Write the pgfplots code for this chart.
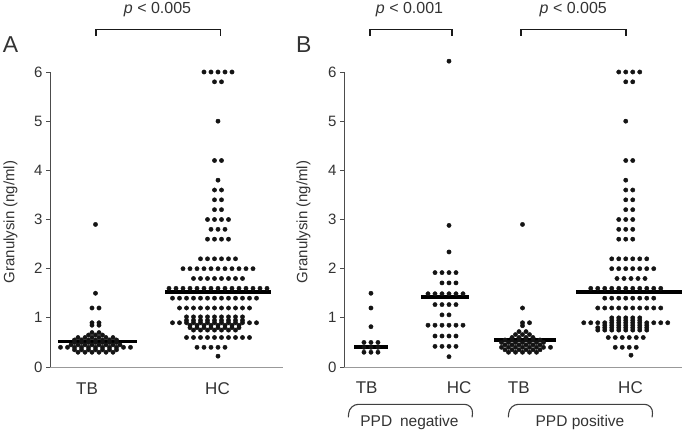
\documentclass[border=0pt]{standalone}
\usepackage{pgfplots}
\pgfplotsset{compat=1.18}
\usepackage{fontspec}
\setmainfont{Liberation Sans}
\definecolor{txt}{HTML}{333333}
\definecolor{dot}{HTML}{141414}
\begin{document}
\begin{tikzpicture}[x=1pt,y=1pt]
\pgfplotsset{
  dotaxis/.style={
    scale only axis,
    height=295pt, ymin=0, ymax=6, ytick={0,1,2,3,4,5,6},
    xtick=\empty,
    axis x line*=bottom, axis y line*=left,
    x axis line style={draw=black!40, line width=1pt},
    y axis line style={draw=black!70, line width=0.9pt},
    y tick style={draw=black!70, line width=0.9pt},
    tick align=outside, major tick length=4pt,
    clip=false,
    /pgf/number format/assume math mode=true,
    yticklabel style={font=\fontsize{15}{18}\selectfont, text=txt},
  },
  dots/.style={only marks, mark=*, mark size=2.15pt, mark options={draw=dot, fill=dot}, color=dot},
  med/.style={no marks, line width=3.8pt, color=black},
}
% ---------------- Panel A ----------------
\begin{axis}[dotaxis, at={(50pt,67pt)}, anchor=origin, width=233pt, xmin=0, xmax=33.2857]
% TB
\addplot[dots] coordinates {
(6.5,2.9)(6.5,1.5)(6,1.2)(7,1.2)(6,0.9)(7,0.9)(6,0.85)(7,0.85)(6,0.7)(7,0.7)
(5.5,0.65)(6.5,0.65)(7.5,0.65)
(4,0.6)(5,0.6)(6,0.6)(7,0.6)(8,0.6)(9,0.6)
(3.5,0.55)(4.5,0.55)(5.5,0.55)(6.5,0.55)(7.5,0.55)(8.5,0.55)(9.5,0.55)
(3.5,0.5)(4.5,0.5)(5.5,0.5)(6.5,0.5)(7.5,0.5)(8.5,0.5)(9.5,0.5)
(3,0.45)(4,0.45)(5,0.45)(6,0.45)(7,0.45)(8,0.45)(9,0.45)(10,0.45)
(1.5,0.4)(2.5,0.4)(3.5,0.4)(4.5,0.4)(5.5,0.4)(6.5,0.4)(7.5,0.4)(8.5,0.4)(9.5,0.4)(10.5,0.4)(11.5,0.4)
(3.5,0.35)(4.5,0.35)(5.5,0.35)(6.5,0.35)(7.5,0.35)(8.5,0.35)(9.5,0.35)
(4,0.3)(5,0.3)(6,0.3)(7,0.3)(8,0.3)(9,0.3)
};
% HC
\addplot[dots] coordinates {
(22,6)(23,6)(24,6)(25,6)(26,6)
(23.5,5.8)(24.5,5.8)
(24,5)
(23.5,4.2)(24.5,4.2)
(24,3.8)
(23.5,3.6)(24.5,3.6)
(23.5,3.4)(24.5,3.4)
(23.5,3.2)(24.5,3.2)
(22.5,3)(23.5,3)(24.5,3)(25.5,3)
(23,2.8)(24,2.8)(25,2.8)
(22.5,2.6)(23.5,2.6)(24.5,2.6)(25.5,2.6)
(21.5,2.2)(22.5,2.2)(23.5,2.2)(24.5,2.2)(25.5,2.2)(26.5,2.2)
(19,2)(20,2)(21,2)(22,2)(23,2)(24,2)(25,2)(26,2)(27,2)(28,2)(29,2)
(20.5,1.8)(21.5,1.8)(22.5,1.8)(23.5,1.8)(24.5,1.8)(25.5,1.8)(26.5,1.8)(27.5,1.8)
(17,1.6)(18,1.6)(19,1.6)(20,1.6)(21,1.6)(22,1.6)(23,1.6)(24,1.6)(25,1.6)(26,1.6)(27,1.6)(28,1.6)(29,1.6)(30,1.6)(31,1.6)
(17.5,1.4)(18.5,1.4)(19.5,1.4)(20.5,1.4)(21.5,1.4)(22.5,1.4)(23.5,1.4)(24.5,1.4)(25.5,1.4)(26.5,1.4)(27.5,1.4)(28.5,1.4)(29.5,1.4)
(18.5,1.2)(19.5,1.2)(20.5,1.2)(21.5,1.2)(22.5,1.2)(23.5,1.2)(24.5,1.2)(25.5,1.2)(26.5,1.2)(27.5,1.2)(28.5,1.2)
(19.5,1.02)(20.5,1.02)(21.5,1.02)(22.5,1.02)(23.5,1.02)(24.5,1.02)(25.5,1.02)(26.5,1.02)(27.5,1.02)
(19.5,0.95)(20.5,0.95)(21.5,0.95)(22.5,0.95)(23.5,0.95)(24.5,0.95)(25.5,0.95)(26.5,0.95)(27.5,0.95)
(17.5,0.9)(18.5,0.9)(19.5,0.9)(20.5,0.9)(21.5,0.9)(22.5,0.9)(23.5,0.9)(24.5,0.9)(25.5,0.9)(26.5,0.9)(27.5,0.9)(28.5,0.9)(29.5,0.9)
(20,0.85)(21,0.85)(22,0.85)(23,0.85)(24,0.85)(25,0.85)(26,0.85)(27,0.85)
(20,0.8)(21,0.8)(22,0.8)(23,0.8)(24,0.8)(25,0.8)(26,0.8)(27,0.8)
(20.5,0.75)(21.5,0.75)(22.5,0.75)(23.5,0.75)(24.5,0.75)(25.5,0.75)(26.5,0.75)
(19.5,0.6)(20.5,0.6)(21.5,0.6)(22.5,0.6)(23.5,0.6)(24.5,0.6)(25.5,0.6)(26.5,0.6)(27.5,0.6)(28.5,0.6)
(21,0.4)(22,0.4)(23,0.4)(24,0.4)(25,0.4)
(24,0.22)
};
\addplot[med] coordinates {(1.14,0.52)(12.43,0.52)};
\addplot[med] coordinates {(16.43,1.52)(31.57,1.52)};
\end{axis}
% ---------------- Panel B ----------------
\begin{axis}[dotaxis, at={(344pt,67pt)}, anchor=origin, width=338pt, xmin=0, xmax=48.2857]
% TB PPD negative
\addplot[dots] coordinates {
(3.85,1.5)(3.85,1.2)(3.85,0.82)
(2.85,0.5)(3.85,0.5)(4.85,0.5)
(2.85,0.4)(3.85,0.4)(4.85,0.4)
(2.85,0.3)(3.85,0.3)(4.85,0.3)
};
% HC PPD negative
\addplot[dots] coordinates {
(15,6.22)(15,2.88)(15,2.34)
(13,1.92)(14,1.92)(15,1.92)(16,1.92)
(14,1.71)(15,1.71)(16,1.71)
(12,1.49)(13,1.49)(14,1.49)(15,1.49)(16,1.49)(17,1.49)
(13,1.27)(14,1.27)(15,1.27)(16,1.27)
(14,1.06)(15,1.06)
(12,0.85)(13,0.85)(14,0.85)(15,0.85)(16,0.85)(17,0.85)
(13,0.63)(14,0.63)(15,0.63)(16,0.63)
(13,0.42)(14,0.42)(15,0.42)(16,0.42)
(15,0.21)
};
% TB PPD positive
\addplot[dots] coordinates {
(25.5,2.9)(25.5,1.2)
(25.5,0.9)(26.5,0.9)(25.5,0.84)
(25,0.72)(26,0.72)
(24.5,0.66)(25.5,0.66)(26.5,0.66)
(24,0.6)(25,0.6)(26,0.6)(27,0.6)
(23,0.55)(24,0.55)(25,0.55)(26,0.55)(27,0.55)(28,0.55)
(22.5,0.5)(23.5,0.5)(24.5,0.5)(25.5,0.5)(26.5,0.5)(27.5,0.5)(28.5,0.5)
(23,0.45)(24,0.45)(25,0.45)(26,0.45)(27,0.45)(28,0.45)
(22.5,0.4)(23.5,0.4)(24.5,0.4)(25.5,0.4)(26.5,0.4)(27.5,0.4)(28.5,0.4)(29.5,0.4)
(23,0.35)(24,0.35)(25,0.35)(26,0.35)(27,0.35)(28,0.35)
(23.5,0.3)(24.5,0.3)(25.5,0.3)(26.5,0.3)(27.5,0.3)
};
% HC PPD positive
\addplot[dots] coordinates {
(39.25,6)(40.25,6)(41.25,6)(42.25,6)
(40.25,5.8)(41.25,5.8)
(40.25,5)
(40.25,4.2)(41.25,4.2)
(40.25,3.8)
(40.25,3.6)(41.25,3.6)
(40.25,3.4)(41.25,3.4)
(40.25,3.2)(41.25,3.2)
(39.25,3)(40.25,3)(41.25,3)
(39.25,2.8)(40.25,2.8)(41.25,2.8)
(39.25,2.6)(40.25,2.6)(41.25,2.6)
(38.25,2.2)(39.25,2.2)(40.25,2.2)(41.25,2.2)(42.25,2.2)(43.25,2.2)
(38.25,2)(39.25,2)(40.25,2)(41.25,2)(42.25,2)(43.25,2)(44.25,2)
(39,1.8)(40,1.8)(41,1.8)(42,1.8)(43,1.8)
(35.25,1.6)(36.25,1.6)(37.25,1.6)(38.25,1.6)(39.25,1.6)(40.25,1.6)(41.25,1.6)(42.25,1.6)(43.25,1.6)(44.25,1.6)(45.25,1.6)
(37.25,1.4)(38.25,1.4)(39.25,1.4)(40.25,1.4)(41.25,1.4)(42.25,1.4)(43.25,1.4)(44.25,1.4)
(36.25,1.2)(37.25,1.2)(38.25,1.2)(39.25,1.2)(40.25,1.2)(41.25,1.2)(42.25,1.2)(43.25,1.2)(44.25,1.2)(45.25,1.2)
(38.25,1.0)(39.25,1.0)(40.25,1.0)(41.25,1.0)(42.25,1.0)
(38.25,0.95)(39.25,0.95)(40.25,0.95)(41.25,0.95)(42.25,0.95)
(34.25,0.9)(35.25,0.9)(36.25,0.9)(37.25,0.9)(38.25,0.9)(39.25,0.9)(40.25,0.9)(41.25,0.9)(42.25,0.9)(43.25,0.9)(44.25,0.9)(45.25,0.9)(46.25,0.9)
(37.25,0.85)(38.25,0.85)(39.25,0.85)(40.25,0.85)(41.25,0.85)(42.25,0.85)(43.25,0.85)
(36.25,0.8)(37.25,0.8)(38.25,0.8)(39.25,0.8)(40.25,0.8)(41.25,0.8)(42.25,0.8)(43.25,0.8)
(36.25,0.75)(37.25,0.75)(38.25,0.75)(39.25,0.75)(40.25,0.75)(41.25,0.75)(42.25,0.75)(43.25,0.75)
(37.75,0.6)(38.75,0.6)(39.75,0.6)(40.75,0.6)(41.75,0.6)(42.75,0.6)
(38.75,0.4)(39.75,0.4)(40.75,0.4)(41.75,0.4)
(41,0.24)
};
\addplot[med] coordinates {(1.47,0.41)(6.33,0.41)};
\addplot[med] coordinates {(11,1.43)(17.9,1.43)};
\addplot[med] coordinates {(21.4,0.55)(30.3,0.55)};
\addplot[med] coordinates {(33.2,1.53)(48.3,1.53)};
\end{axis}
% ---------------- texts and brackets ----------------
\node[inner sep=0, font=\fontsize{23}{26}\selectfont, text=txt] at (10.5,389) {A};
\node[inner sep=0, font=\fontsize{23}{26}\selectfont, text=txt] at (303.7,389) {B};
\node[inner sep=0, rotate=90, font=\fontsize{15}{18}\selectfont, text=txt] at (10.5,212) {Granulysin (ng/ml)};
\node[inner sep=0, rotate=90, font=\fontsize{15}{18}\selectfont, text=txt] at (303.5,212) {Granulysin (ng/ml)};
\begin{scope}[every node/.style={inner sep=0, anchor=base, font=\fontsize{17}{20}\selectfont, text=txt}]
\node at (87,40) {TB};
\node at (217.5,40) {HC};
\node at (366.7,41) {TB};
\node at (459.2,41) {HC};
\node at (518.8,41) {TB};
\node at (630.5,41) {HC};
\end{scope}
\begin{scope}[every node/.style={inner sep=0, font=\fontsize{16}{19}\selectfont, text=txt}]
\node at (157.5,424.8) {\textit{p} < 0.005};
\node at (409.5,424.8) {\textit{p} < 0.001};
\node at (573.3,424.8) {\textit{p} < 0.005};
\end{scope}
\begin{scope}[line width=1.8pt, draw=black!90]
\draw (95.7,398) -- (95.7,404.5) -- (220.4,404.5) -- (220.4,398);
\draw (369.7,398) -- (369.7,404.5) -- (452.2,404.5) -- (452.2,398);
\draw (521.2,398) -- (521.2,404.5) -- (626,404.5) -- (626,398);
\end{scope}
\begin{scope}[line width=1.1pt, draw=black!75, rounded corners=9pt]
\draw (348.3,16.7) -- (349.5,29.7) -- (473.3,29.7) -- (472.1,16.7);
\draw (508.3,16.7) -- (509.5,29.7) -- (653.3,29.7) -- (652.1,16.7);
\end{scope}
\begin{scope}[every node/.style={inner sep=0, anchor=base, font=\fontsize{15.5}{18}\selectfont, text=txt}]
\node at (409.5,8) {PPD\hspace{0.5em}negative};
\node at (580,8) {PPD positive};
\end{scope}
\pgfresetboundingbox
\path[use as bounding box] (0,0) rectangle (684,434);
\end{tikzpicture}
\end{document}
